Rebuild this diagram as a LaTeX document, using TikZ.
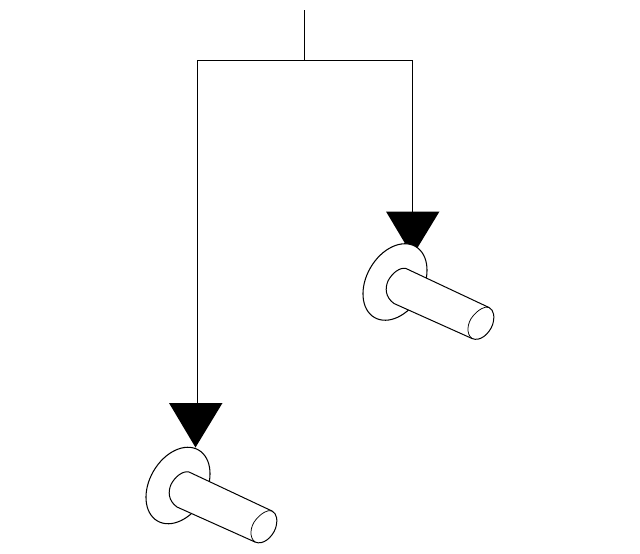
\documentclass[tikz,border=0pt]{standalone}
\tikzset{
  wire/.style={draw=black,line width=0.95pt},
  headtri/.style={fill=black,draw=none},
  flange/.style={draw=black,fill=white,line width=1.05pt},
  shank/.style={draw=black,fill=white,line width=1pt},
  capring/.style={draw=black,line width=0.75pt},
  bolt/.pic={
    % origin = flange centre
    \path[flange] (0,0) ellipse [x radius=41pt,y radius=28.4pt,rotate=60];
    \path[shank] (94,25.5) -- (11,-13.5)
      .. controls (5,-15) and (-3,-9) .. (-7,-1)
      .. controls (-10,6) and (-10,15) .. (-1,21.5)
      -- (77,56.5)
      .. controls (85,60) and (94,52) .. (97.5,43)
      .. controls (100,35) and (99,28) .. (94,25.5) -- cycle;
    \draw[capring] (77,56.5) .. controls (71,52) and (72,41) .. (78,34)
      .. controls (83,28) and (90,23.5) .. (94,25.5);
  }
}
\begin{document}
\begin{tikzpicture}[x=1pt,y=-1pt]
\useasboundingbox (0,0) rectangle (640,554);
\fill[white] (0,0) rectangle (640,554);
\coordinate (top) at (304.5,10);
\coordinate (junction) at (304.5,60);
\coordinate (cornerL) at (197,60);
\coordinate (cornerR) at (412.5,60);
\coordinate (headL) at (196,403);
\coordinate (headR) at (412.5,211.5);
\draw[wire] (top) -- (junction);
\draw[wire] (headL -| cornerL) -- (cornerL) -- (cornerR) -- (headR);
\fill[headtri] (169,403) -- (222.5,403) -- (195.5,447.5) -- cycle;
\fill[headtri] (386,211.5) -- (439.5,211.5) -- (412.5,256) -- cycle;
\pic at (178,485.5) {bolt};
\pic at (395,282) {bolt};
\end{tikzpicture}
\end{document}
